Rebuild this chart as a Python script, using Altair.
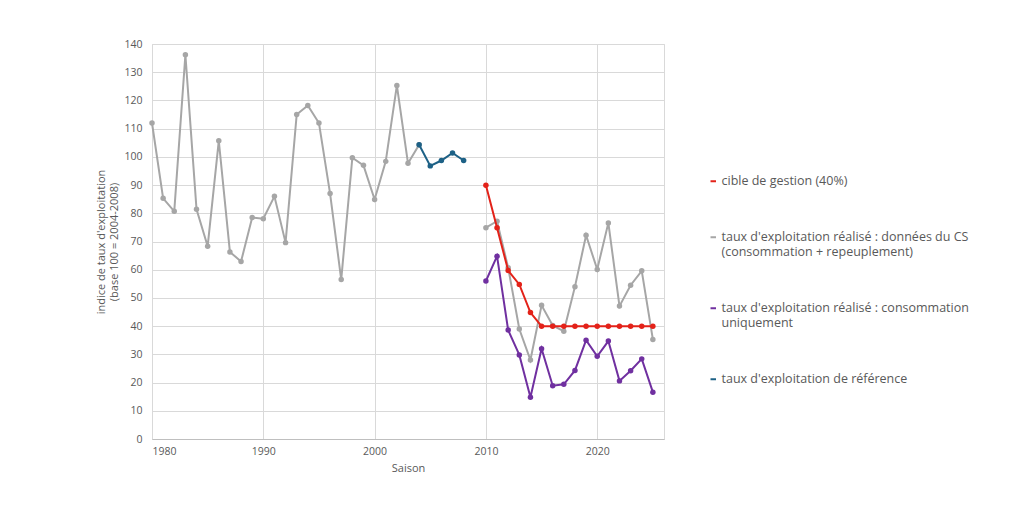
import altair as alt
import pandas as pd

# Series data
years_cs_a = list(range(1980, 2005))
cs_a = [112, 85.3, 80.7, 136.2, 81.4, 68.3, 105.7, 66.3, 62.9, 78.5, 78.1, 86.0,
        69.6, 115.0, 118.2, 112.0, 87.0, 56.5, 99.7, 97.0, 84.9, 98.4, 125.3, 97.7, 104.3]
years_cs_b = list(range(2010, 2026))
cs_b = [74.9, 77.2, 60.7, 39.0, 28.0, 47.4, 40.2, 38.2, 54.0, 72.2, 60.1, 76.6,
        47.1, 54.5, 59.6, 35.3]
years_ref = list(range(2004, 2009))
ref = [104.3, 96.8, 98.7, 101.4, 98.7]
years_cible = list(range(2010, 2026))
cible = [89.9, 74.9, 59.7, 54.8, 44.8, 40, 40, 40, 40, 40, 40, 40, 40, 40, 40, 40]
years_conso = list(range(2010, 2026))
conso = [56.0, 64.8, 38.6, 29.8, 14.8, 32.0, 18.9, 19.4, 24.3, 35.0, 29.3, 34.7,
         20.6, 24.2, 28.4, 16.6]

s_cible = "cible de gestion (40%)"
s_cs = "taux d'exploitation réalisé : données du CS|(consommation + repeuplement)"
s_conso = "taux d'exploitation réalisé : consommation|uniquement"
s_ref = "taux d'exploitation de référence"

series_order = [s_cible, s_cs, s_conso, s_ref]
series_colors = ["#e32219", "#a6a6a6", "#7030a0", "#1d6186"]
series_sizes = [30, 30, 30, 50]

rows = []
for y, v in zip(years_cs_a, cs_a):
    rows.append({"Saison": y, "val": v, "serie": s_cs, "seg": "cs_a"})
for y, v in zip(years_cs_b, cs_b):
    rows.append({"Saison": y, "val": v, "serie": s_cs, "seg": "cs_b"})
for y, v in zip(years_conso, conso):
    rows.append({"Saison": y, "val": v, "serie": s_conso, "seg": "conso"})
for y, v in zip(years_ref, ref):
    rows.append({"Saison": y, "val": v, "serie": s_ref, "seg": "ref"})
for y, v in zip(years_cible, cible):
    rows.append({"Saison": y, "val": v, "serie": s_cible, "seg": "cible"})
df = pd.DataFrame(rows)
df["serie_pt"] = df["serie"]

FONT = "Open Sans"
TXT = "#595959"

x = alt.X("Saison:Q", title="Saison",
          scale=alt.Scale(domain=[1980, 2026], nice=False, zero=False),
          axis=alt.Axis(values=[1980, 1990, 2000, 2010, 2020], format="d"))
y = alt.Y("val:Q", title=["indice de taux d'exploitation", "(base 100 = 2004-2008)"],
          scale=alt.Scale(domain=[0, 140], nice=False),
          axis=alt.Axis(values=list(range(0, 141, 10))))
color = alt.Color("serie:N",
                  scale=alt.Scale(domain=series_order, range=series_colors),
                  legend=alt.Legend(
                      title=None, orient="none", legendX=555, legendY=131,
                      symbolType="stroke", symbolSize=484, symbolStrokeWidth=2,
                      labelExpr="split(datum.label, '|')",
                      labelFont=FONT, labelFontSize=12.5, labelColor=TXT,
                      labelLimit=400, labelOffset=2, rowPadding=43, padding=0))
fill = alt.Fill("serie_pt:N", scale=alt.Scale(domain=series_order, range=series_colors),
                legend=None)

base = alt.Chart(df)
lines = base.mark_line(strokeWidth=2).encode(
    x=x, y=y, color=color, detail="seg:N", order=alt.Order("Saison:Q"))
pts = base.mark_point(filled=True, opacity=1, strokeWidth=0).encode(
    x=x, y=y, fill=fill,
    size=alt.Size("serie_pt:N", scale=alt.Scale(domain=series_order, range=series_sizes),
                  legend=None))

layers = []
for s in [s_cs, s_conso, s_ref, s_cible]:
    layers.append(lines.transform_filter(alt.datum.serie == s))
    layers.append(pts.transform_filter(alt.datum.serie == s))

chart = alt.layer(*layers).properties(
    width=512, height=395,
    autosize=alt.AutoSizeParams(type="none"),
    padding={"left": 144, "top": 36, "right": 352, "bottom": 83},
    background="white",
).configure_view(stroke="#d9d9d9", strokeWidth=1).configure_axis(
    labelFont=FONT, labelFontSize=10.5, labelColor=TXT,
    titleFont=FONT, titleFontSize=11, titleColor=TXT, titleFontWeight="normal",
    gridColor="#d9d9d9", gridWidth=1, domainColor="#bfbfbf", ticks=False,
).configure_axisY(labelPadding=10, titlePadding=4, domain=False).configure_axisX(
    labelPadding=7, titlePadding=6, domainColor="#bfbfbf")

chart.save("out.html", embed_options={"renderer": "svg", "actions": False})
